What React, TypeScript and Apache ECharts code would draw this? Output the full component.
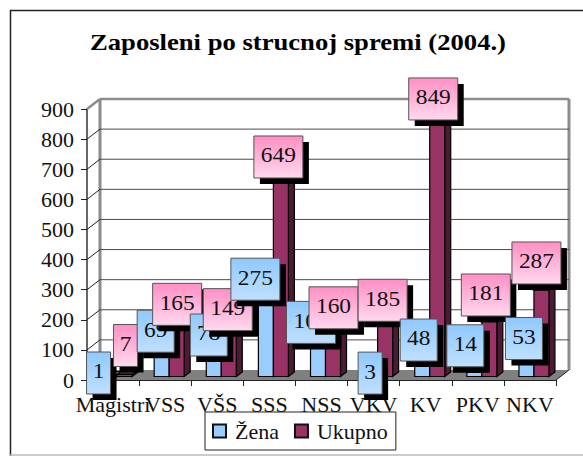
import React, { useEffect, useRef } from "react";
import * as echarts from "echarts";

const categories = ["Magistri", "VSS", "VŠS", "SSS", "NSS", "VKV", "KV", "PKV", "NKV"];
const zena = [1, 69, 78, 275, 105, 3, 48, 14, 53];
const ukupno = [7, 165, 149, 649, 160, 185, 849, 181, 287];
const yTicks = [0, 100, 200, 300, 400, 500, 600, 700, 800, 900];
const titleText = "Zaposleni po strucnoj spremi (2004.)";
const zenaLabelShift = [[-14.5, -6.7], [-9.5, -28], [-8.5, -21.5], [-14, -18], [-10.5, -26], [-3.5, -6], [-7, -25.5], [-12.5, -30], [-6, -25.5]];
const ukupnoLabelShift = [[12.5, -32.4], [12, -26], [10.5, -25.5], [9, -27.6], [12, -24], [9, -24], [7.5, -25.4], [8, -30.5], [6.5, -30.6]];

const FONT = "'Liberation Serif', 'Times New Roman', serif";
const BLUE = "#99CCFF";
const PLUM = "#993366";
const DX = 13;
const DY = 10;

function barRender(front: string, side: string, top: string, shift: number) {
  return (_p: any, api: any) => {
    const [cx] = api.coord([api.value(0), 0]);
    const y0 = api.coord([api.value(0), 0])[1] - 3.5;
    const y1 = api.coord([api.value(0), api.value(1)])[1] - 3.5;
    const w = 15;
    const x = cx + 4 + shift * w;
    const d = 6;
    const e = 4.5;
    const line = { stroke: "#000", lineWidth: 1.2 };
    return {
      type: "group",
      children: [
        { type: "polygon", shape: { points: [[x + w, y0], [x + w + d, y0 - e], [x + w + d, y1 - e], [x + w, y1]] }, style: { fill: side, ...line } },
        { type: "polygon", shape: { points: [[x, y1], [x + d, y1 - e], [x + w + d, y1 - e], [x + w, y1]] }, style: { fill: top, ...line } },
        { type: "rect", shape: { x, y: y1, width: w, height: y0 - y1 }, style: { fill: front, ...line } },
      ],
    };
  };
}

function frameRender(params: any, api: any) {
  const v = api.value(1);
  const sys = params.coordSys;
  const y = api.coord([0, v])[1];
  const x0 = sys.x;
  const x1 = sys.x + sys.width;
  const wall = "#8c8c8c";
  const children: any[] = [];
  if (v === 0) {
    children.push({
      type: "polygon",
      shape: { points: [[x0, y], [x0 + DX, y - DY], [x1 + DX, y - DY], [x1, y]] },
      style: { fill: "#808080" },
    });
    children.push({
      type: "line",
      shape: { x1: x1, y1: y, x2: x1 + DX, y2: y - DY },
      style: { stroke: "#222", lineWidth: 1 },
    });
    children.push({
      type: "line",
      shape: { x1: x0 + DX, y1: y - DY, x2: x0 + DX, y2: sys.y - DY },
      style: { stroke: wall, lineWidth: 3 },
    });
    children.push({
      type: "line",
      shape: { x1: x1 + DX, y1: y - DY, x2: x1 + DX, y2: sys.y - DY },
      style: { stroke: wall, lineWidth: 3 },
    });
  } else if (v === yTicks[yTicks.length - 1]) {
    children.push({
      type: "line",
      shape: { x1: x0 + DX, y1: y - DY, x2: x1 + DX, y2: y - DY },
      style: { stroke: wall, lineWidth: 2.5 },
    });
    children.push({
      type: "line",
      shape: { x1: x0, y1: y, x2: x0 + DX, y2: y - DY },
      style: { stroke: wall, lineWidth: 2.5 },
    });
  } else {
    children.push({
      type: "line",
      shape: { x1: x0 + DX, y1: y - DY, x2: x1 + DX, y2: y - DY },
      style: { stroke: "#4a4a4a", lineWidth: 1 },
    });
    children.push({
      type: "line",
      shape: { x1: x0, y1: y, x2: x0 + DX, y2: y - DY },
      style: { stroke: "#222", lineWidth: 1 },
    });
  }
  return { type: "group", children };
}

function labelRender(_p: any, api: any) {
  const i = api.value(0);
  const val = api.value(1);
  const kind = api.value(2);
  const dx = api.value(3);
  const dy = api.value(4);
  const [cx, vy] = api.coord([i, val]);
  const txt = String(val);
  const w = txt.length === 1 ? 24 : txt.length === 2 ? 37 : 49;
  const h = 42;
  const x = cx + dx - w / 2;
  const y = vy + dy - h / 2;
  const fill =
    kind === 0
      ? new echarts.graphic.LinearGradient(0, 0, 0, 1, [
          { offset: 0, color: "#8FC9FF" },
          { offset: 1, color: "#BFE0FF" },
        ])
      : new echarts.graphic.LinearGradient(0, 0, 0, 1, [
          { offset: 0, color: "#FF8FC4" },
          { offset: 1, color: "#FFD9EE" },
        ]);
  return {
    type: "group",
    children: [
      { type: "rect", shape: { x: x + 6, y: y + 6, width: w, height: h }, style: { fill: "#000" } },
      { type: "rect", shape: { x, y, width: w, height: h }, style: { fill, stroke: "#555", lineWidth: 1 } },
      {
        type: "text",
        x: x + w / 2,
        y: y + h / 2 - 1,
        scaleX: 1.17,
        style: {
          text: txt,
          x: 0,
          y: 0,
          align: "center",
          verticalAlign: "middle",
          fontFamily: FONT,
          fontSize: 20,
          fill: "#111",
        },
      },
    ],
  };
}

export default function App() {
  const ref = useRef<HTMLDivElement>(null);
  useEffect(() => {
    document.body.style.margin = "0";
    const chart = echarts.init(ref.current!, undefined, { renderer: "svg" });
    const labelRows: number[][] = [];
    categories.forEach((_, i) => {
      labelRows.push([i, zena[i], 0, zenaLabelShift[i][0], zenaLabelShift[i][1]]);
      labelRows.push([i, ukupno[i], 1, ukupnoLabelShift[i][0], ukupnoLabelShift[i][1]]);
    });
    chart.setOption({
      animation: false,
      backgroundColor: "#fff",
      textStyle: { fontFamily: FONT },
      grid: { left: 87, top: 109, width: 469, height: 271 },
      legend: {
        left: 205,
        top: 412,
        width: 199,
        height: 38,
        orient: "horizontal",
        padding: [8, 8, 8, 7],
        itemWidth: 13,
        itemHeight: 13,
        itemGap: 15,
        backgroundColor: "#fff",
        borderColor: "#222",
        borderWidth: 1,
        borderRadius: 0,
        icon: "rect",
        textStyle: { fontFamily: FONT, fontSize: 22, color: "#111", padding: [0, 0, 0, 4] },
        data: ["Žena", "Ukupno"],
      },
      xAxis: {
        type: "category",
        data: categories,
        axisLine: { lineStyle: { color: "#222", width: 1 } },
        axisTick: { show: true, length: 6, alignWithLabel: false, lineStyle: { color: "#222" } },
        axisLabel: { interval: 0, hideOverlap: false, margin: 13, fontFamily: FONT, fontSize: 22, color: "#111" },
        splitLine: { show: false },
        z: 2,
      },
      yAxis: {
        type: "value",
        min: 0,
        max: 900,
        interval: 100,
        axisLine: { show: true, lineStyle: { color: "#333", width: 1.5 } },
        axisTick: { show: true, length: 6, lineStyle: { color: "#222" } },
        axisLabel: { margin: 13, fontFamily: FONT, fontSize: 22, color: "#111" },
        splitLine: { show: false },
      },
      series: [
        {
          type: "custom",
          name: "frame",
          silent: true,
          z: 1,
          data: yTicks.map((t) => [0, t]),
          encode: { x: 0, y: 1 },
          renderItem: frameRender,
        },
        {
          type: "custom",
          name: "Žena",
          z: 3,
          itemStyle: { color: BLUE, borderColor: "#111", borderWidth: 2 },
          data: zena.map((v, i) => [i, v]),
          encode: { x: 0, y: 1 },
          renderItem: barRender(BLUE, "#4d6680", "#7aa3cc", -1),
        },
        {
          type: "custom",
          name: "Ukupno",
          z: 4,
          itemStyle: { color: PLUM, borderColor: "#111", borderWidth: 2 },
          data: ukupno.map((v, i) => [i, v]),
          encode: { x: 0, y: 1 },
          renderItem: barRender(PLUM, "#4d1a33", "#7a2952", 0),
        },
        {
          type: "custom",
          name: "labels",
          silent: true,
          z: 5,
          data: labelRows,
          encode: { x: 0, y: 1 },
          renderItem: labelRender,
        },
      ],
      graphic: [
        {
          type: "text",
          silent: true,
          x: 90,
          y: 41,
          scaleX: 1.11,
          style: {
            text: titleText,
            x: 0,
            y: 0,
            verticalAlign: "middle",
            fontFamily: FONT,
            fontSize: 24,
            fontWeight: "bold",
            fill: "#000",
          },
        },
        {
          type: "polyline",
          silent: true,
          z: -1,
          shape: { points: [[10.5, 456], [10.5, 10.5], [583, 10.5]] },
          style: { stroke: "#222", lineWidth: 1.5, fill: "none" },
        },
        {
          type: "line",
          silent: true,
          z: -1,
          shape: { x1: 10, y1: 455, x2: 583, y2: 455 },
          style: { stroke: "#bbb", lineWidth: 1.5 },
        },
      ],
    });
    return () => chart.dispose();
  }, []);
  return <div ref={ref} style={{ width: 583, height: 456, position: "absolute", left: 0, top: 0 }} />;
}
